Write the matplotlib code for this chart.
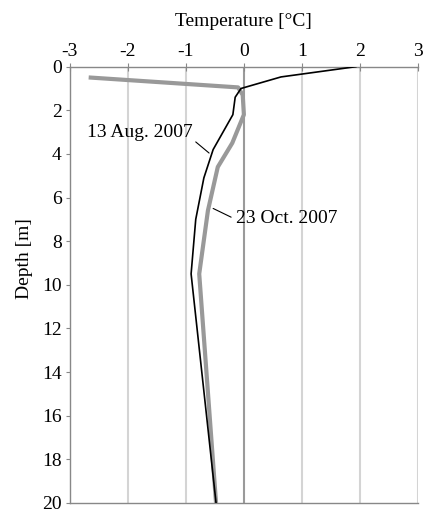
import matplotlib
matplotlib.use("Agg")
import matplotlib.pyplot as plt

plt.rcParams['font.family'] = ['Liberation Serif', 'DejaVu Serif']

# 13 Aug. 2007 profile (black)
aug_temp = [1.93, 0.64, -0.05, -0.15, -0.19, -0.53, -0.69, -0.83, -0.91, -0.48]
aug_depth = [0.0, 0.47, 1.0, 1.4, 2.2, 3.8, 5.1, 7.0, 9.5, 20.0]

# 23 Oct. 2007 profile (gray)
oct_temp = [-2.64, -0.1, -0.02, 0.0, -0.2, -0.45, -0.62, -0.77, -0.48]
oct_depth = [0.5, 0.95, 1.3, 2.2, 3.5, 4.6, 6.6, 9.5, 20.0]

x_ticks = [-3, -2, -1, 0, 1, 2, 3]
y_ticks = list(range(0, 21, 2))

fig = plt.figure(figsize=(4.26, 5.09), dpi=100)
ax = fig.add_axes([0.164, 0.012, 0.817, 0.857])

# vertical grid
for xv in x_ticks[1:]:
    ax.axvline(xv, color='#9a9a9a' if xv == 0 else '#d4d4d4', lw=1.5, zorder=1)

ax.plot(oct_temp, oct_depth, color='#999999', lw=3, zorder=3, solid_joinstyle='round')
ax.plot(aug_temp, aug_depth, color='black', lw=1.2, zorder=4)

ax.set_xlim(-3, 3)
ax.set_ylim(20, 0)
ax.set_xticks(x_ticks)
ax.set_xticklabels([str(v) for v in x_ticks])
ax.set_yticks(y_ticks)
ax.xaxis.tick_top()
ax.xaxis.set_label_position('top')
ax.tick_params(axis='x', direction='inout', length=6, width=0.8, color='#888888',
               labelsize=14, pad=2)
ax.tick_params(axis='y', direction='out', length=3, width=0.8, color='#888888',
               labelsize=14, pad=3)

for s in ['top', 'bottom', 'left']:
    ax.spines[s].set_color('#888888')
    ax.spines[s].set_linewidth(1.0)
ax.spines['right'].set_visible(False)

ax.set_xlabel('Temperature [°C]', fontsize=14, labelpad=12)
ax.set_ylabel('Depth [m]', fontsize=14)
ax.yaxis.set_label_coords(-0.105, 0.56)

# curve labels with leader lines
ax.text(-0.88, 3.0, '13 Aug. 2007', fontsize=14, ha='right', va='center')
ax.annotate('', xy=(-0.6, 3.96), xytext=(-0.83, 3.45),
            arrowprops=dict(arrowstyle='-', color='black', lw=0.8,
                            shrinkA=0, shrinkB=0))
ax.text(-0.14, 6.95, '23 Oct. 2007', fontsize=14, ha='left', va='center')
ax.annotate('', xy=(-0.53, 6.5), xytext=(-0.22, 6.9),
            arrowprops=dict(arrowstyle='-', color='black', lw=0.8,
                            shrinkA=0, shrinkB=0))

fig.savefig('out.png', dpi=100)
